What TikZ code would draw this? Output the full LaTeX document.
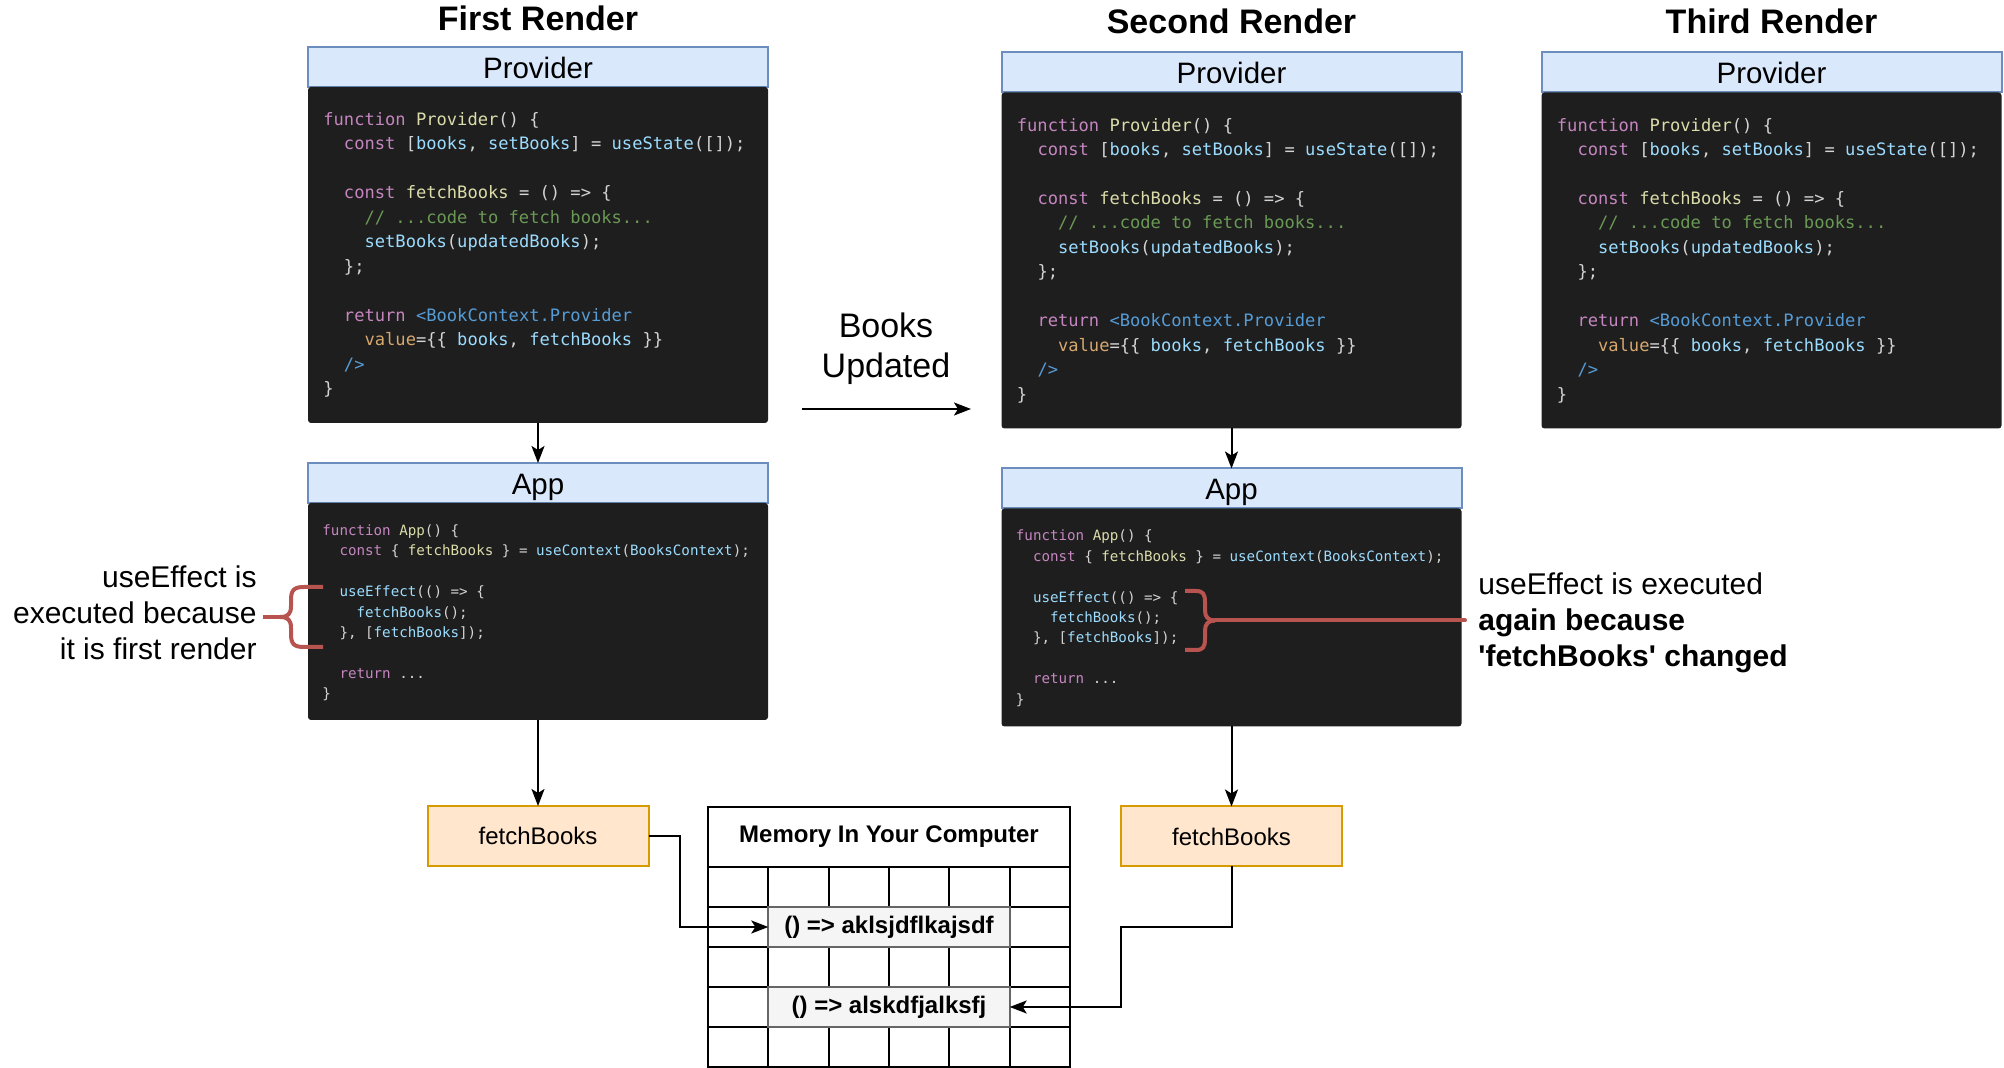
\documentclass[tikz,border=0pt]{standalone}
\usepackage{fontspec}
\setmainfont{Liberation Sans}
\setmonofont{DejaVu Sans Mono}
\usepackage{tikz}
\usetikzlibrary{arrows.meta,positioning}

\definecolor{headFill}{HTML}{DAE8FC}
\definecolor{headDraw}{HTML}{6C8EBF}
\definecolor{codeBg}{HTML}{1E1E1E}
\definecolor{fnFill}{HTML}{FFE6CC}
\definecolor{fnDraw}{HTML}{D79B00}
\definecolor{braceRed}{HTML}{B85450}
\definecolor{cellFill}{HTML}{F5F5F5}
\definecolor{cellDraw}{HTML}{666666}
\definecolor{jsPlain}{HTML}{D4D4D4}
\definecolor{jsKey}{HTML}{C586C0}
\definecolor{jsFunc}{HTML}{DCDCAA}
\definecolor{jsVar}{HTML}{9CDCFE}
\definecolor{jsCmt}{HTML}{6A9955}
\definecolor{jsTagc}{HTML}{569CD6}
\definecolor{jsAttr}{HTML}{D7A86E}

\newcommand{\jsK}[1]{\textcolor{jsKey}{#1}}
\newcommand{\jsF}[1]{\textcolor{jsFunc}{#1}}
\newcommand{\jsV}[1]{\textcolor{jsVar}{#1}}
\newcommand{\jsC}[1]{\textcolor{jsCmt}{#1}}
\newcommand{\jsT}[1]{\textcolor{jsTagc}{#1}}
\newcommand{\jsA}[1]{\textcolor{jsAttr}{#1}}

\newcommand{\providerCode}{%
\strut\jsK{function} \jsF{Provider}() \{\\
\phantom{xx}\jsK{const} [\jsV{books}, \jsV{setBooks}] = \jsV{useState}([]);\\
\mbox{}\\
\phantom{xx}\jsK{const} \jsF{fetchBooks} = () => \{\\
\phantom{xxxx}\jsC{// ...code to fetch books...}\\
\phantom{xxxx}\jsV{setBooks}(\jsV{updatedBooks});\\
\phantom{xx}\};\\
\mbox{}\\
\phantom{xx}\jsK{return} \jsT{<BookContext.Provider}\\
\phantom{xxxx}\jsA{value}=\{\{ \jsV{books}, \jsV{fetchBooks} \}\}\\
\phantom{xx}\jsT{/>}\\
\}}

\newcommand{\appCode}{%
\strut\jsK{function} \jsF{App}() \{\\
\phantom{xx}\jsK{const} \{ \jsF{fetchBooks} \} = \jsV{useContext}(\jsV{BooksContext});\\
\mbox{}\\
\phantom{xx}\jsV{useEffect}(() => \{\\
\phantom{xxxx}\jsV{fetchBooks}();\\
\phantom{xx}\}, [\jsV{fetchBooks}]);\\
\mbox{}\\
\phantom{xx}\jsK{return} ...\\
\}}

\begin{document}
\begin{tikzpicture}[x=0.5pt, y=-0.5pt]
	\tikzstyle{rendertitle} = [font=\bfseries\fontsize{17}{20}\selectfont]
	\tikzstyle{header} = [rectangle, minimum width=230pt, minimum height=20pt, 
	outer sep=0pt, line width=1pt, draw=headDraw, fill=headFill, 
	text height=11.3pt, text depth=0pt, font=\fontsize{14.75}{17}\selectfont]
	\tikzstyle{codebox} = [rectangle, rounded corners=1.5pt, minimum width=230pt, 
	outer sep=0pt, fill=codeBg]
	\tikzstyle{codetextA} = [anchor=north west, inner sep=0pt, align=left, text=jsPlain, 
	font=\ttfamily\fontsize{8.55}{12.23}\selectfont]
	\tikzstyle{codetextB} = [anchor=north west, inner sep=0pt, align=left, text=jsPlain, 
	font=\ttfamily\fontsize{7.1}{10.2}\selectfont]
	\tikzstyle{fnbox} = [rectangle, minimum width=110.5pt, minimum height=30pt, outer sep=0pt, 
	line width=1pt, draw=fnDraw, fill=fnFill, font=\fontsize{12}{14}\selectfont]
	\tikzstyle{memcell} = [rectangle, minimum width=120.7pt, minimum height=20pt, inner sep=0pt, 
	outer sep=0pt, line width=1pt, draw=cellDraw, fill=cellFill, font=\bfseries\fontsize{12}{14}\selectfont]
	\tikzstyle{gridline} = [line width=1pt, black]
	\tikzstyle{notetext} = [inner sep=0pt, font=\fontsize{15}{18}\selectfont]
	\tikzstyle{bracepath} = [line width=2pt, draw=braceRed, line join=round]
	\tikzstyle{arrow} = [line width=1pt,->,>={Stealth[length=8.5pt,width=6.5pt,inset=2pt]}]
	\useasboundingbox (0,0) rectangle (2004,1068);
	% first render
	\node (titleA) [rendertitle] at (538,18) {First Render};
	\node (provHeadA) [header] at (538,67) {Provider};
	\node (provCodeA) [codebox, minimum height=168pt, below=0pt of provHeadA] {};
	\node (provTextA) [codetextA] at ([xshift=7.5pt,yshift=-10.5pt]provCodeA.north west) {\providerCode};
	\node (appHeadA) [header, below=20pt of provCodeA] {App};
	\node (appCodeA) [codebox, minimum height=108.5pt, below=0pt of appHeadA] {};
	\node (appTextA) [codetextB] at ([xshift=7pt,yshift=-8.9pt]appCodeA.north west) {\appCode};
	\node (fetchA) [fnbox, below=43pt of appCodeA] {fetchBooks};
	% second render
	\node (titleB) [rendertitle] at (1231.5,21.5) {Second Render};
	\node (provHeadB) [header] at (1231.5,72.5) {Provider};
	\node (provCodeB) [codebox, minimum height=168pt, below=0pt of provHeadB] {};
	\node (provTextB) [codetextA] at ([xshift=7.5pt,yshift=-10.5pt]provCodeB.north west) {\providerCode};
	\node (appHeadB) [header, below=20pt of provCodeB] {App};
	\node (appCodeB) [codebox, minimum height=109pt, below=0pt of appHeadB] {};
	\node (appTextB) [codetextB] at ([xshift=7pt,yshift=-8.9pt]appCodeB.north west) {\appCode};
	\node (fetchB) [fnbox, below=40pt of appCodeB] {fetchBooks};
	% third render
	\node (titleC) [rendertitle] at (1771.5,21.5) {Third Render};
	\node (provHeadC) [header] at (1771.5,72.5) {Provider};
	\node (provCodeC) [codebox, minimum height=168pt, below=0pt of provHeadC] {};
	\node (provTextC) [codetextA] at ([xshift=7.5pt,yshift=-10.5pt]provCodeC.north west) {\providerCode};
	% books updated
	\node (updated) [align=center, font=\fontsize{17}{20}\selectfont] at (886,349) {Books\\Updated};
	\coordinate (updFrom) at (802,409);
	\coordinate (updTo) at (971,409);
	% memory
	\node (memTitle) [font=\bfseries\fontsize{12}{14}\selectfont] at (889,837) {Memory In Your Computer};
	\draw [gridline] (708,807) rectangle (1070,1067);
	\foreach \y in {867,907,947,987,1027} \draw [gridline] (708,\y) -- (1070,\y);
	\foreach \x in {768.3,828.7,889,949.3,1009.7} \draw [gridline] (\x,867) -- (\x,1067);
	\node (memA) [memcell] at (889,927) {() => aklsjdflkajsdf};
	\node (memB) [memcell] at (889,1007) {() => alskdfjalksfj};
	% notes and braces
	\node (noteA) [notetext, anchor=east, align=right] at (257,613) {useEffect is\\executed because\\it is first render};
	\node (noteB) [notetext, anchor=west, align=left] at (1478,623) {useEffect is executed\\\textbf{again because}\\\textbf{\textquotesingle fetchBooks\textquotesingle{} changed}};
	\coordinate (braceA) at (280,617);
	\coordinate (braceB) at (1215,620.5);
	\draw [bracepath] (323,587) -- (304,587) .. controls (294,587) and (291,590) .. (291,600) -- (291,606) .. controls (291,614) and (288,617) .. (braceA);
	\draw [bracepath] (323,647) -- (304,647) .. controls (294,647) and (291,644) .. (291,634) -- (291,628) .. controls (291,620) and (288,617) .. (braceA);
	\draw [bracepath] (braceA) -- ([xshift=3pt]noteA.east |- braceA);
	\draw [bracepath] (1185,591) -- (1196,591) .. controls (1203,591) and (1205,594) .. (1205,602) -- (1205,610) .. controls (1205,617) and (1208,620.5) .. (braceB);
	\draw [bracepath] (1185,650) -- (1196,650) .. controls (1203,650) and (1205,647) .. (1205,639) -- (1205,631) .. controls (1205,624) and (1208,620.5) .. (braceB);
	\draw [bracepath, line cap=round] (braceB) -- ([xshift=-6.5pt]noteB.west |- braceB);
	% arrows
	\draw [arrow] (provCodeA) -- (appHeadA);
	\draw [arrow] (appCodeA) -- (fetchA);
	\draw [arrow] (provCodeB) -- (appHeadB);
	\draw [arrow] (appCodeB) -- (fetchB);
	\draw [arrow] (updFrom) -- (updTo);
	\draw [arrow] (fetchA.east) -- ++(31,0) |- (memA.west);
	\draw [arrow] (fetchB.south) -- ++(0,61) -| (fetchB.south west |- memB.east) -- (memB.east);
\end{tikzpicture}
\end{document}
